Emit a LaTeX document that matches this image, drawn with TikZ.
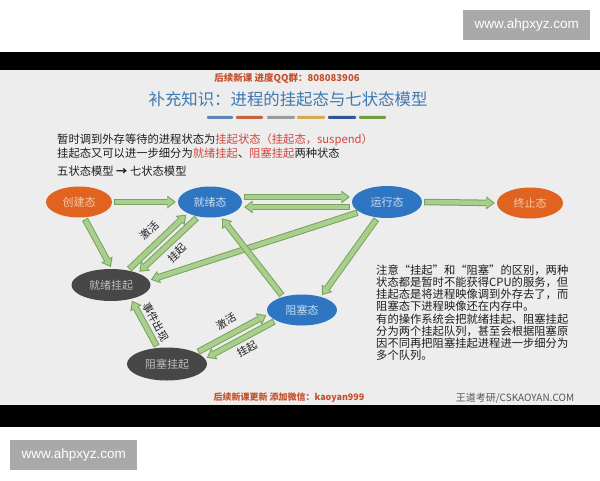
\documentclass[tikz,border=0pt]{standalone}
\usepackage{fontspec}
\setmainfont{Noto Sans CJK SC}
\newfontfamily\wmfont{Liberation Sans}
\usetikzlibrary{shapes.geometric,arrows.meta}
\definecolor{slidebg}{HTML}{EDEDED}
\definecolor{wmgray}{HTML}{A9A9A9}
\definecolor{hdrred}{HTML}{C4502C}
\definecolor{titleblue}{HTML}{3D78B2}
\definecolor{hlred}{HTML}{D2453F}
\definecolor{bodyblack}{HTML}{1E1E1E}
\definecolor{norange}{HTML}{E0641F}
\definecolor{norangetxt}{HTML}{F7C9A6}
\definecolor{nblue}{HTML}{2F76C2}
\definecolor{nbluetxt}{HTML}{C9DDF3}
\definecolor{ndark}{HTML}{474747}
\definecolor{ndarktxt}{HTML}{BDBDBD}
\definecolor{gdark}{HTML}{78A35A}
\definecolor{glight}{HTML}{A9CF8E}
\definecolor{brandgray}{HTML}{555555}
\definecolor{barA}{HTML}{5B87B8}
\definecolor{barB}{HTML}{C8643A}
\definecolor{barC}{HTML}{9A9A9A}
\definecolor{barD}{HTML}{D4AA55}
\definecolor{barE}{HTML}{2E5597}
\definecolor{barF}{HTML}{6E9E42}
\tikzset{
  wm/.style={fill=wmgray, text=white, font=\wmfont\fontsize{13.5}{15}\selectfont,
    minimum width=127pt, minimum height=30pt, inner sep=0pt, anchor=north west},
  state/.style={ellipse, inner sep=0pt, font=\fontsize{11}{12}\selectfont},
  ostate/.style={state, fill=norange, text=norangetxt},
  bstate/.style={state, fill=nblue, text=nbluetxt},
  dstate/.style={state, fill=ndark, text=ndarktxt},
  body/.style={font=\fontsize{11.3}{12.2}\selectfont, text=bodyblack, inner sep=0pt},
  lab/.style={font=\fontsize{10.5}{11}\selectfont, text=bodyblack, inner sep=0pt},
  gout/.style={draw=gdark, line width=6.5pt,
    -{Triangle[length=8.5pt,width=13pt,line width=0pt]}, shorten <=2pt, shorten >=2pt},
  gin/.style={draw=glight, line width=4.5pt,
    -{Triangle[length=5.9pt,width=9pt,line width=0pt]}, shorten <=3pt, shorten >=3.7pt},
}
\newcommand\garrow[2]{\draw[gout] #1 -- #2; \draw[gin] #1 -- #2;}
\begin{document}
\begin{tikzpicture}[x=1pt,y=-1pt]
\useasboundingbox (0,0) rectangle (600,480);
\fill[white] (0,0) rectangle (600,480);
\fill[black] (0,52) rectangle (600,70);
\fill[slidebg] (0,70) rectangle (600,405);
\fill[black] (0,405) rectangle (600,427);
\node[wm] (wm1) at (463,10) {www.ahpxyz.com};
\node[wm] (wm2) at (10,440) {www.ahpxyz.com};

% header and title
\node[font=\bfseries\fontsize{9.5}{10}\selectfont, text=hdrred, inner sep=0pt] (hdr) at (287,78) {后续新课 进度QQ群：808083906};
\node[font=\fontsize{16.4}{18}\selectfont, text=titleblue, inner sep=0pt] (title) at (288,99) {补充知识：进程的挂起态与七状态模型};
\fill[barA, rounded corners=1pt] (207,115.8) rectangle (233,118.8);
\fill[barB, rounded corners=1pt] (236,115.8) rectangle (263,118.8);
\fill[barC, rounded corners=1pt] (267,115.8) rectangle (295,118.8);
\fill[barD, rounded corners=1pt] (297,115.8) rectangle (325,118.8);
\fill[barE, rounded corners=1pt] (328,115.8) rectangle (356,118.8);
\fill[barF, rounded corners=1pt] (359,115.8) rectangle (386,118.8);

% intro text
\node[body, anchor=base west] (l1) at (57,143) {暂时调到外存等待的进程状态为\textcolor{hlred}{挂起状态（挂起态，suspend）}};
\node[body, anchor=base west] (l2) at (57,157) {挂起态又可以进一步细分为\textcolor{hlred}{就绪挂起}、\textcolor{hlred}{阻塞挂起}两种状态};
\node[body, anchor=base west] (l3) at (57,175.5) {五状态模型 \textbf{→} 七状态模型};

% states
\node[ostate, minimum width=66pt, minimum height=31pt] (cj) at (79,202) {创建态};
\node[bstate, minimum width=64pt, minimum height=31pt] (jx) at (210,202) {就绪态};
\node[bstate, minimum width=70pt, minimum height=32pt] (yx) at (387,202) {运行态};
\node[ostate, minimum width=66pt, minimum height=31pt] (zz) at (530,203) {终止态};
\node[dstate, minimum width=79pt, minimum height=32pt] (jg) at (111,285) {就绪挂起};
\node[bstate, minimum width=70pt, minimum height=31pt] (zs) at (302,310) {阻塞态};
\node[dstate, minimum width=80pt, minimum height=33pt] (zg) at (167,364) {阻塞挂起};

% arrows
\garrow{(cj.east)}{(jx.west)}
\garrow{([yshift=5pt]jx.east)}{([yshift=5pt]yx.west)}
\garrow{([yshift=-5pt]yx.west)}{([yshift=-5pt]jx.east)}
\garrow{(yx.east)}{(zz.west)}
\garrow{(cj.-72)}{(jg.87)}
\garrow{(jg.41.5)}{(jx.-153.4)}
\garrow{(jx.-129.8)}{(jg.24.6)}
\garrow{(yx.-160.6)}{(jg.7.1)}
\garrow{(zs.145.7)}{(jx.-54.2)}
\garrow{(yx.-121.4)}{(zs.35.5)}
\garrow{(zg.120.5)}{(jg.-35)}
\garrow{(zg.21.6)}{(zs.187.7)}
\garrow{(zs.-158)}{(zg.8.2)}

% arrow labels
\node[lab, rotate=44] (la1) at (149.5,230.5) {激活};
\node[lab, rotate=43] (la2) at (177,253) {挂起};
\node[lab, rotate=-61.5] (la3) at (156,322) {事件出现};
\node[lab, rotate=29] (la4) at (226,321.5) {激活};
\node[lab, rotate=29] (la5) at (247,349) {挂起};

% note
\node[body, anchor=base west, text width=210pt, align=left] (note) at (376,274.3) {注意“挂起”和“阻塞”的区别，两种\\
状态都是暂时不能获得CPU的服务，但\\
挂起态是将进程映像调到外存去了，而\\
阻塞态下进程映像还在内存中。\\
有的操作系统会把就绪挂起、阻塞挂起\\
分为两个挂起队列，甚至会根据阻塞原\\
因不同再把阻塞挂起进程进一步细分为\\
多个队列。};

% footer
\node[font=\bfseries\fontsize{9}{10}\selectfont, text=hdrred, inner sep=0pt] (ft) at (289,398) {后续新课更新 添加微信：kaoyan999};
\node[font=\fontsize{10}{11}\selectfont, text=brandgray, inner sep=0pt] (brand) at (515,398) {王道考研/CSKAOYAN.COM};
\end{tikzpicture}
\end{document}
